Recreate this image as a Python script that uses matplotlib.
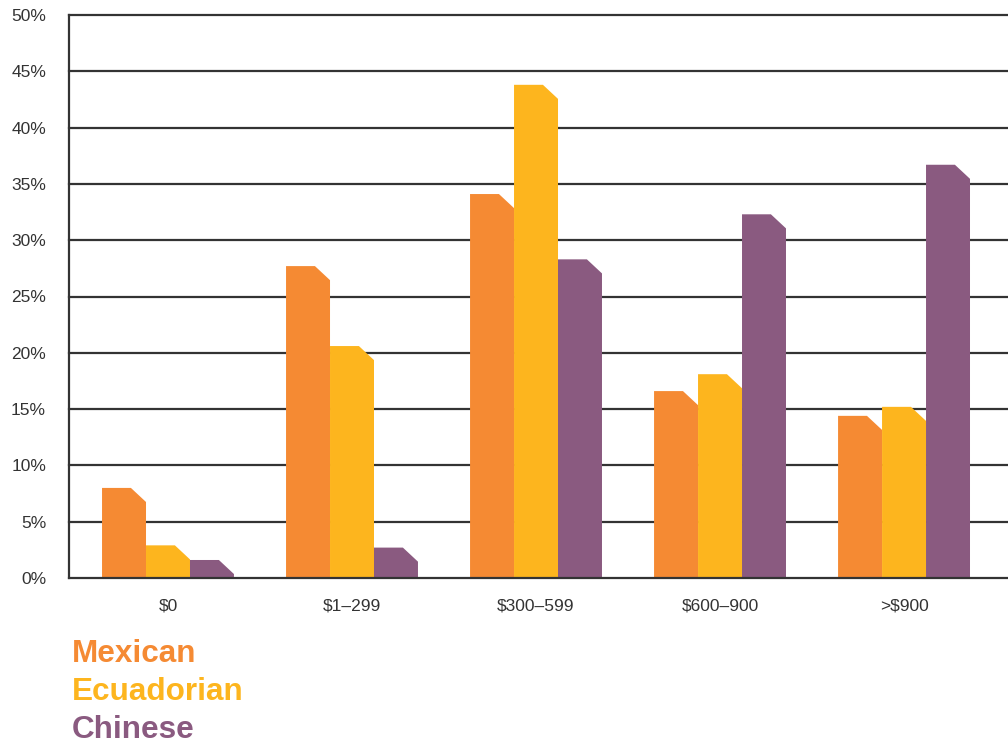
import matplotlib
matplotlib.use("Agg")
import matplotlib.pyplot as plt
from matplotlib.patches import Polygon

plt.rcParams['font.family'] = ['Liberation Sans', 'DejaVu Sans']

categories = ["$0", "$1–299", "$300–599", "$600–900", ">$900"]
groups = ["Mexican", "Ecuadorian", "Chinese"]
mexican = [8.0, 27.7, 34.1, 16.6, 14.4]
ecuadorian = [2.9, 20.6, 43.8, 18.1, 15.2]
chinese = [1.6, 2.7, 28.3, 32.3, 36.7]
colors = ["#F58A33", "#FDB51E", "#8A5A80"]
yticks = list(range(0, 51, 5))


def chamfered_bar(ax, x0, width, height, color, cut_w=0.082, cut_h=1.25):
    # flat-topped bar with the top right corner clipped off
    ch = min(cut_h, height)
    pts = [(x0, 0), (x0, height), (x0 + width - cut_w, height),
           (x0 + width, height - ch), (x0 + width, 0)]
    ax.add_patch(Polygon(pts, closed=True, facecolor=color, edgecolor='none', zorder=3))


fig = plt.figure(figsize=(10.08, 7.44), dpi=100)
ax = fig.add_axes([69 / 1008, 1 - 578 / 744, 1 - 69 / 1008, (578 - 15) / 744])

width = 0.239
series = [mexican, ecuadorian, chinese]
for i, vals in enumerate(series):
    for j, v in enumerate(vals):
        x0 = j + (i - 1.5) * width
        chamfered_bar(ax, x0, width, v, colors[i])

ax.set_xlim(-0.538, 4.565)
ax.set_ylim(0, 50)

for y in yticks:
    ax.axhline(y, color='#333333', lw=1.6, zorder=1 if 0 < y < 50 else 4, clip_on=False)

for s in ['top', 'right', 'bottom']:
    ax.spines[s].set_visible(False)
ax.spines['left'].set_color('#333333')
ax.spines['left'].set_linewidth(1.6)

ax.set_yticks(yticks)
ax.set_yticklabels([f"{y}%" for y in yticks], fontsize=12.5, color='#333333')
ax.set_xticks(range(len(categories)))
ax.set_xticklabels(categories, fontsize=12.5, color='#333333')
ax.tick_params(axis='y', length=0, pad=16.5)
ax.tick_params(axis='x', length=0, pad=15)

# colored group names serve as the legend
for i, name in enumerate(groups):
    fig.text(72 / 1008, 1 - (654.5 + 37.5 * i) / 744, name, color=colors[i],
             fontsize=22.7, fontweight='bold', va='center', ha='left')

fig.savefig("out.png", dpi=100)
